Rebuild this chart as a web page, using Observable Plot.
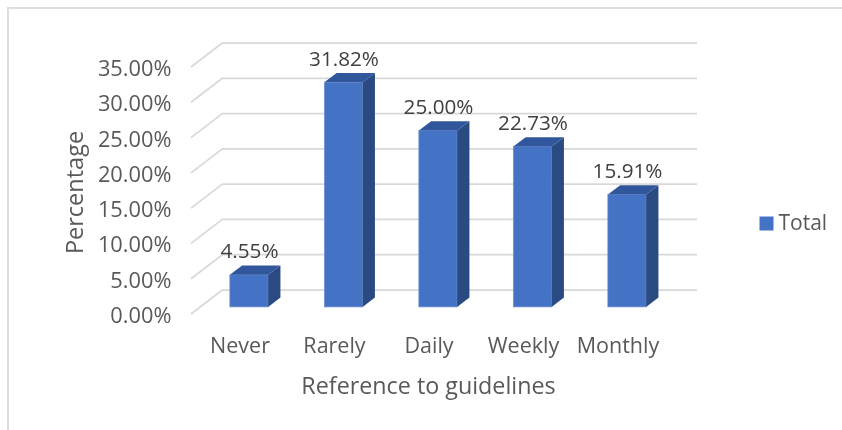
<!DOCTYPE html>
<html>
<head>
<meta charset="utf-8">
<style>
html,body{margin:0;padding:0;background:#fff;overflow:hidden}
#border{position:fixed;left:6.5px;top:6.5px;right:-10px;bottom:-10px;border:2px solid #dedede}
#chart{position:absolute;left:0;top:0}
</style>
<script src="https://cdn.jsdelivr.net/npm/d3@7"></script>
<script src="https://cdn.jsdelivr.net/npm/@observablehq/plot@0.6"></script>
</head>
<body>
<div id="border"></div>
<div id="chart"></div>
<script>
const categories = ["Never", "Rarely", "Daily", "Weekly", "Monthly"];
const percentages = [4.55, 31.82, 25.0, 22.73, 15.91];
const yTicks = [0, 5, 10, 15, 20, 25, 30, 35];
const seriesName = "Total";
const xTitle = "Reference to guidelines";
const yTitle = "Percentage";

const rows = categories.map((c, i) => ({category: c, value: percentages[i]}));
const pct = d => d3.format(".2f")(d) + "%";

const FONT = "'Open Sans', sans-serif";
const FRONT = "#4472c4", TOP = "#30569b", SIDE = "#2a4a82", GRID = "#d9d9d9";
const WALL = {dx: 32, dy: -24.5};       // depth of the floor
const BAR = {dx: 12.3, dy: -9.3};       // depth of a bar
const INSET = {dx: 10, dy: -7.1};       // bar's position inside the floor

// diagonal floor/side-wall lines
function diagonals(index, {y}, values, dim) {
  const g = d3.create("svg:g");
  g.selectAll("line").data(yTicks).join("line")
    .attr("x1", dim.marginLeft).attr("x2", dim.marginLeft + WALL.dx)
    .attr("y1", d => y(d)).attr("y2", d => y(d) + WALL.dy)
    .attr("stroke", GRID).attr("stroke-width", 1.75);
  return g.node();
}

// extruded side and top faces behind each front face
function extrude(index, scales, values, dim, ctx, next) {
  const g = next(index, scales, values, dim, ctx);
  const w = scales.x.bandwidth();
  const sel = d3.select(g);
  for (const i of index) {
    const x0 = values.x[i], top = Math.min(values.y1[i], values.y2[i]), base = Math.max(values.y1[i], values.y2[i]);
    const x1 = x0 + w;
    sel.append("polygon")
      .attr("points", [[x1, top], [x1 + BAR.dx, top + BAR.dy], [x1 + BAR.dx, base + BAR.dy], [x1, base]].join(" "))
      .attr("fill", SIDE).attr("stroke", "none");
    sel.append("polygon")
      .attr("points", [[x0, top], [x0 + BAR.dx, top + BAR.dy], [x1 + BAR.dx, top + BAR.dy], [x1, top]].join(" "))
      .attr("fill", TOP).attr("stroke", "none");
  }
  return g;
}

const plot = Plot.plot({
  width: 842,
  height: 430,
  marginLeft: 191,
  marginRight: 177,
  marginTop: 67,
  marginBottom: 116,
  style: {fontFamily: FONT, background: "transparent", overflow: "visible"},
  x: {domain: categories, paddingInner: 0.595, paddingOuter: 0.3055, round: false, label: null},
  y: {domain: [0, 35], label: null},
  marks: [
    Plot.ruleY(yTicks, {dx: WALL.dx, dy: WALL.dy, stroke: GRID, strokeWidth: 1.75}),
    Plot.ruleY(yTicks, {render: diagonals}),
    Plot.barY(rows, {x: "category", y: "value", fill: FRONT, stroke: "#6f92d2", strokeWidth: 0.75, dx: INSET.dx, dy: INSET.dy, render: extrude}),
    Plot.axisY({ticks: yTicks, tickSize: 0, tickPadding: 20, tickFormat: pct, fontSize: 21.8, dy: 1.5, fill: "#595959", label: null}),
    Plot.axisX({tickSize: 0, tickPadding: 23, fontSize: 21.5, fill: "#595959", label: null, dx: 0.5}),
    Plot.text(rows, {x: "category", y: "value", text: d => pct(d.value), dx: INSET.dx, dy: -31, fontSize: 20.7, fill: "#404040"}),
    Plot.text([yTitle], {frameAnchor: "left", textAnchor: "middle", rotate: -90, dx: -116, dy: 1.5, fontSize: 23.5, fill: "#595959"}),
    Plot.text([xTitle], {frameAnchor: "bottom", dy: 79, fontSize: 23.3, fill: "#595959", dx: 0}),
    Plot.dot([seriesName], {frameAnchor: "right", symbol: "square", r: 7.9, fill: FRONT, dx: 101, dy: 32.5}),
    Plot.text([seriesName], {frameAnchor: "right", textAnchor: "start", dx: 113, dy: 32, fontSize: 21, fill: "#595959"})
  ]
});
document.getElementById("chart").appendChild(plot);
</script>
</body>
</html>
